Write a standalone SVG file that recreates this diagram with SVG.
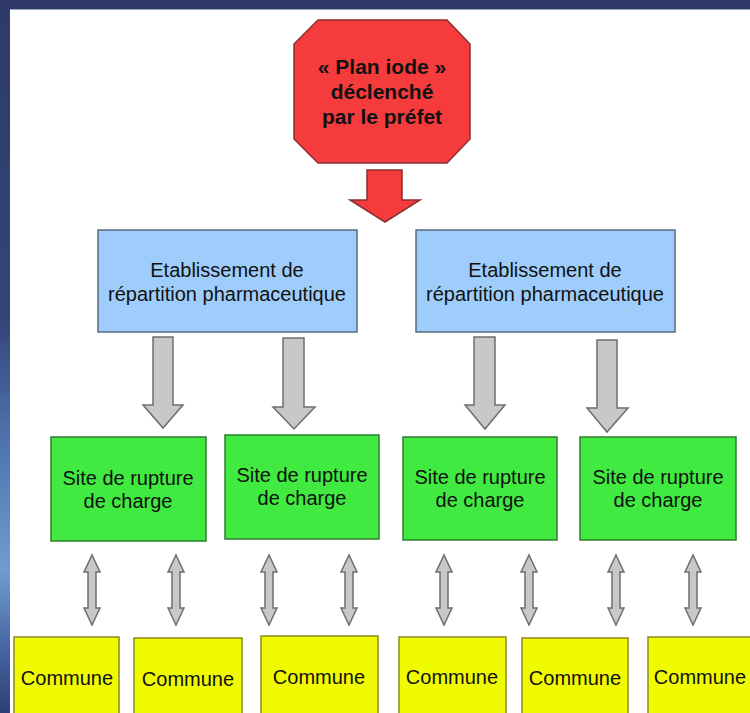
<svg xmlns="http://www.w3.org/2000/svg" width="750" height="713" viewBox="0 0 750 713">
<defs>
<linearGradient id="leftbg" x1="0" y1="0" x2="0" y2="1">
<stop offset="0" stop-color="#2e3a68"/>
<stop offset="0.45" stop-color="#34457a"/>
<stop offset="0.62" stop-color="#4f74b0"/>
<stop offset="0.8" stop-color="#6f9bd0"/>
<stop offset="0.9" stop-color="#4a6aa8"/>
<stop offset="1" stop-color="#2e3e72"/>
</linearGradient>
<style>
.blue{fill:#9fcdfb;stroke:#5a6a7a;stroke-width:1.5}
.green{fill:#40ea40;stroke:#2e7d2e;stroke-width:1.5}
.yellow{fill:#f0fb00;stroke:#8a8a20;stroke-width:1.5}
.gray{fill:#c8c8c8;stroke:#6e6e6e;stroke-width:1.5;stroke-linejoin:miter}
.t{font-family:"Liberation Sans",Arial,sans-serif;font-size:20px;fill:#111111;text-anchor:middle}
.tb{font-family:"Liberation Sans",Arial,sans-serif;font-size:21px;font-weight:bold;fill:#111111;text-anchor:middle}
</style>
</defs>
<rect x="0" y="0" width="750" height="713" fill="#ffffff"/>
<rect x="0" y="0" width="10" height="713" fill="url(#leftbg)"/>
<rect x="0" y="0" width="750" height="9" fill="#2f3a68"/>
<line x1="10" y1="9.5" x2="750" y2="9.5" stroke="#9aa3c0" stroke-width="1"/>

<g id="plan">
<polygon points="318,20 447,20 470,44 470,139 447,163 318,163 294,139 294,44" fill="#f53b3b" stroke="#8a3030" stroke-width="1.5"/>
<text class="tb" x="382" y="74">« Plan iode »</text>
<text class="tb" x="382" y="99">déclenché</text>
<text class="tb" x="382" y="124">par le préfet</text>
</g>

<g id="erp1">
<rect class="blue" x="98" y="230" width="259" height="102"/>
<text class="t" x="227" y="277">Etablissement de</text>
<text class="t" x="227" y="301">répartition pharmaceutique</text>
</g>
<g id="erp2">
<rect class="blue" x="416" y="230" width="259" height="102"/>
<text class="t" x="545" y="277">Etablissement de</text>
<text class="t" x="545" y="301">répartition pharmaceutique</text>
</g>

<g id="site1">
<rect class="green" x="51" y="437" width="155" height="104"/>
<text class="t" x="128" y="485">Site de rupture</text>
<text class="t" x="128" y="508">de charge</text>
</g>
<g id="site2">
<rect class="green" x="225" y="435" width="154" height="104"/>
<text class="t" x="302" y="482">Site de rupture</text>
<text class="t" x="302" y="505">de charge</text>
</g>
<g id="site3">
<rect class="green" x="403" y="437" width="154" height="103"/>
<text class="t" x="480" y="484">Site de rupture</text>
<text class="t" x="480" y="507">de charge</text>
</g>
<g id="site4">
<rect class="green" x="580" y="437" width="156" height="103"/>
<text class="t" x="658" y="484">Site de rupture</text>
<text class="t" x="658" y="507">de charge</text>
</g>

<g id="commune1">
<rect class="yellow" x="14" y="637" width="105" height="80"/>
<text class="t" x="67" y="685">Commune</text>
</g>
<g id="commune2">
<rect class="yellow" x="134" y="638" width="108" height="80"/>
<text class="t" x="188" y="686">Commune</text>
</g>
<g id="commune3">
<rect class="yellow" x="261" y="636" width="117" height="80"/>
<text class="t" x="319" y="684">Commune</text>
</g>
<g id="commune4">
<rect class="yellow" x="399" y="637" width="107" height="80"/>
<text class="t" x="452" y="684">Commune</text>
</g>
<g id="commune5">
<rect class="yellow" x="522" y="638" width="106" height="80"/>
<text class="t" x="575" y="685">Commune</text>
</g>
<g id="commune6">
<rect class="yellow" x="648" y="637" width="104" height="80"/>
<text class="t" x="700" y="684">Commune</text>
</g>

<g id="connectors">
<polygon points="367,170 402,170 402,200 420,200 385,222 350,200 367,200" fill="#f53b3b" stroke="#8a3030" stroke-width="1.5"/>
<polygon class="gray" points="153,337 173,337 173,405 183,405 163,428 143,405 153,405"/>
<polygon class="gray" points="283,338 304,338 304,407 315,407 294,429 273,407 283,407"/>
<polygon class="gray" points="474,337 495,337 495,405 505,405 485,429 465,405 474,405"/>
<polygon class="gray" points="597,340 617,340 617,408 628,408 607,432 587,408 597,408"/>
<g id="dbl">
<polygon class="gray" points="92,555 100,572 96,572 96,608 100,608 92,625 84,608 88,608 88,572 84,572"/>
</g>
<use href="#dbl" x="84" y="0"/>
<use href="#dbl" x="177" y="0"/>
<use href="#dbl" x="257" y="0"/>
<use href="#dbl" x="352" y="0"/>
<use href="#dbl" x="437" y="0"/>
<use href="#dbl" x="524" y="0"/>
<use href="#dbl" x="601" y="0"/>
</g>
</svg>
